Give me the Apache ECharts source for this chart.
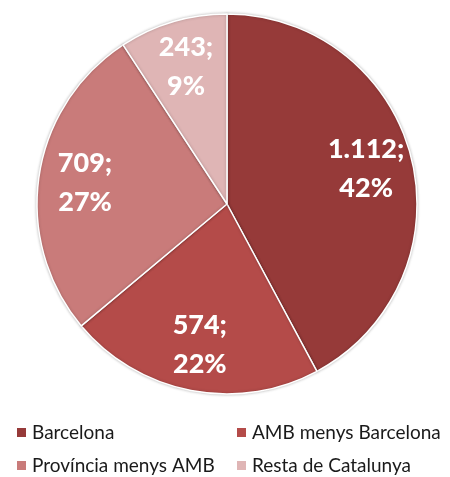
<!DOCTYPE html>
<html>
<head>
<meta charset="utf-8">
<script src="https://cdn.jsdelivr.net/npm/echarts@6/dist/echarts.min.js"></script>
<style>
html,body{margin:0;padding:0;background:#fff;}
#chart{width:450px;height:477px;}
</style>
</head>
<body>
<div id="chart"></div>
<script>
const categories = ["Barcelona", "AMB menys Barcelona", "Província menys AMB", "Resta de Catalunya"];
const values = [1112, 574, 709, 243];
const valueLabels = ["1.112", "574", "709", "243"];
const colors = ["#963a39", "#b44b49", "#c97b7a", "#dfb5b5"];

const total = values.reduce((a, b) => a + b, 0);
const data = categories.map((name, i) => ({ name: name, value: values[i], itemStyle: { color: colors[i] } }));

const chart = echarts.init(document.getElementById('chart'), null, { renderer: 'canvas' });
const legendText = { fontFamily: 'Lato', fontSize: 19, color: '#1a1a1a' };
chart.setOption({
  animation: false,
  backgroundColor: '#ffffff',
  legend: [
    {
      data: [categories[0], categories[2]],
      orient: 'vertical', left: 15, top: 423, padding: 0,
      itemWidth: 11, itemHeight: 11, itemGap: 14, icon: 'rect',
      textStyle: legendText, selectedMode: false
    },
    {
      data: [categories[1], categories[3]],
      orient: 'vertical', left: 235, top: 423, padding: 0,
      itemWidth: 11, itemHeight: 11, itemGap: 14, icon: 'rect',
      textStyle: legendText, selectedMode: false
    }
  ],
  series: [
    {
      type: 'pie',
      center: [227, 204],
      radius: [0, 190],
      startAngle: 90,
      clockwise: true,
      label: { show: false },
      labelLine: { show: false },
      emphasis: { disabled: true },
      itemStyle: { borderColor: '#ffffff', borderWidth: 1.5, shadowBlur: 3, shadowColor: 'rgba(0,0,0,0.25)' },
      data: data
    },
    {
      type: 'pie',
      center: [227, 204],
      radius: [91, 190],
      startAngle: 90,
      clockwise: true,
      silent: true,
      z: 3,
      itemStyle: { color: 'rgba(0,0,0,0)', borderWidth: 0 },
      label: {
        show: true,
        position: 'inside',
        color: '#ffffff',
        fontFamily: 'Lato',
        fontWeight: 900,
        fontSize: 27,
        lineHeight: 39,
        formatter: function (p) {
          return valueLabels[p.dataIndex] + ';\n' + Math.round(p.value / total * 100) + '%';
        }
      },
      labelLine: { show: false },
      emphasis: { disabled: true },
      data: categories.map((name, i) => ({ name: name, value: values[i], itemStyle: { color: 'rgba(0,0,0,0)' } }))
    }
  ]
});
</script>
</body>
</html>
